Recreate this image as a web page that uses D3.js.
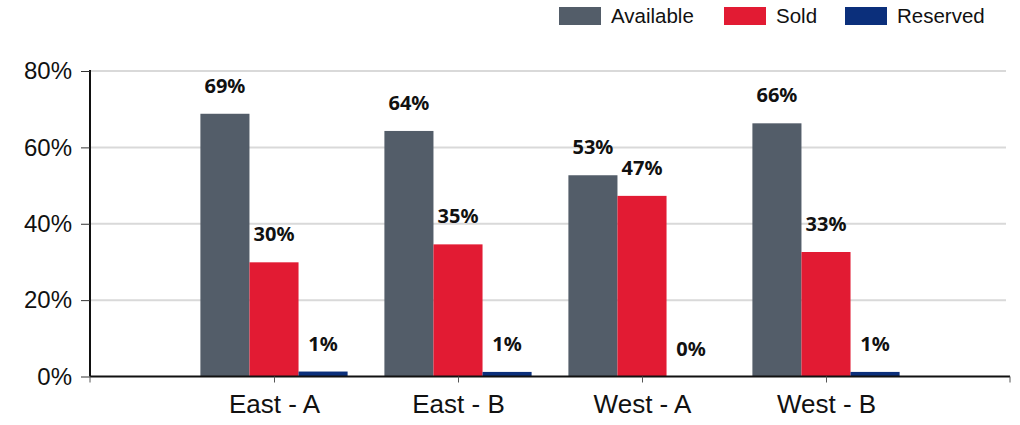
<!DOCTYPE html>
<html>
<head>
<meta charset="utf-8">
<script src="https://cdn.jsdelivr.net/npm/d3@7"></script>
<style>
  html, body { margin: 0; padding: 0; background: #fff; }
  svg { display: block; }
</style>
</head>
<body>
<svg id="chart" width="1020" height="425"></svg>
<script>
const categories = ["East - A", "East - B", "West - A", "West - B"];
const seriesNames = ["Available", "Sold", "Reserved"];
const available = [68.8, 64.3, 52.7, 66.3];
const sold = [29.9, 34.6, 47.3, 32.6];
const reserved = [1.3, 1.2, 0, 1.2];
const valueLabels = [["69%", "30%", "1%"], ["64%", "35%", "1%"], ["53%", "47%", "0%"], ["66%", "33%", "1%"]];
const yTicks = [0, 20, 40, 60, 80];
const colors = ["#535d69", "#e21b33", "#0b2f7b"];

const series = [available, sold, reserved];
const svg = d3.select("#chart");

const plotLeft = 90, plotRight = 1010, plotTop = 71, plotBottom = 376.5;

const x = d3.scalePoint().domain(categories).range([plotLeft, plotRight]).padding(1);
const step = x.step();
const xInner = d3.scaleBand().domain(seriesNames).range([-step * 0.4, step * 0.4]).padding(0);
const y = d3.scaleLinear().domain([0, 80]).range([plotBottom, plotTop]);

// gridlines
svg.append("g")
  .selectAll("line")
  .data(yTicks.filter(t => t > 0))
  .join("line")
  .attr("x1", plotLeft).attr("x2", plotRight - 4)
  .attr("y1", d => y(d)).attr("y2", d => y(d))
  .attr("stroke", "#d9d9d9").attr("stroke-width", 2);

// bars
const groups = svg.append("g")
  .selectAll("g")
  .data(categories)
  .join("g")
  .attr("transform", d => `translate(${x(d)},0)`);

groups.selectAll("rect")
  .data((c, i) => seriesNames.map((s, j) => ({ s, j, v: series[j][i] })))
  .join("rect")
  .attr("x", d => xInner(d.s))
  .attr("width", xInner.bandwidth())
  .attr("y", d => y(d.v))
  .attr("height", d => plotBottom - y(d.v))
  .attr("fill", d => colors[d.j]);

groups.selectAll("text")
  .data((c, i) => seriesNames.map((s, j) => ({ s, j, v: series[j][i], lab: valueLabels[i][j] })))
  .join("text")
  .attr("x", d => xInner(d.s) + xInner.bandwidth() / 2)
  .attr("y", d => y(d.v) - 21)
  .attr("text-anchor", "middle")
  .attr("font-family", "'Noto Sans', sans-serif")
  .attr("font-weight", "bold")
  .attr("font-size", "20px")
  .attr("fill", "#111")
  .text(d => d.lab);

// y axis
const yAxis = svg.append("g")
  .attr("transform", `translate(${plotLeft},0)`)
  .call(d3.axisLeft(y).tickValues(yTicks).tickFormat(d => d + "%").tickSize(9).tickPadding(9));
yAxis.select(".domain").attr("stroke", "#111").attr("stroke-width", 2).attr("d", `M0,${plotTop - 1}V${plotBottom}`);
yAxis.selectAll(".tick line").attr("stroke", "#333").attr("stroke-width", 1);
yAxis.selectAll(".tick text")
  .attr("font-family", "'Liberation Sans', Arial, sans-serif")
  .attr("font-size", "24px")
  .attr("fill", "#111");

// x axis
const xAxis = svg.append("g")
  .attr("transform", `translate(0,${plotBottom})`)
  .call(d3.axisBottom(x).tickSize(6).tickPadding(12));
xAxis.select(".domain").attr("stroke", "#111").attr("stroke-width", 2).attr("d", `M${plotLeft},0H${plotRight}`);
xAxis.selectAll(".tick line").attr("stroke", "#555").attr("stroke-width", 1);
xAxis.selectAll(".tick text")
  .attr("font-family", "'Liberation Sans', Arial, sans-serif")
  .attr("font-size", "26px")
  .attr("fill", "#111");
// end ticks
xAxis.selectAll(".endtick")
  .data([plotLeft, plotRight])
  .join("line")
  .attr("class", "endtick")
  .attr("x1", d => d).attr("x2", d => d)
  .attr("y1", 0).attr("y2", 6)
  .attr("stroke", "#555").attr("stroke-width", 1);

// legend
const legendX = [559, 724, 845];
const legend = svg.append("g")
  .selectAll("g")
  .data(seriesNames)
  .join("g")
  .attr("transform", (d, i) => `translate(${legendX[i]},7)`);
legend.append("rect")
  .attr("width", 42).attr("height", 18)
  .attr("fill", (d, i) => colors[i]);
legend.append("text")
  .attr("x", 52).attr("y", 16)
  .attr("font-family", "'Liberation Sans', Arial, sans-serif")
  .attr("font-size", "20.5px")
  .attr("fill", "#111")
  .text(d => d);
</script>
</body>
</html>
